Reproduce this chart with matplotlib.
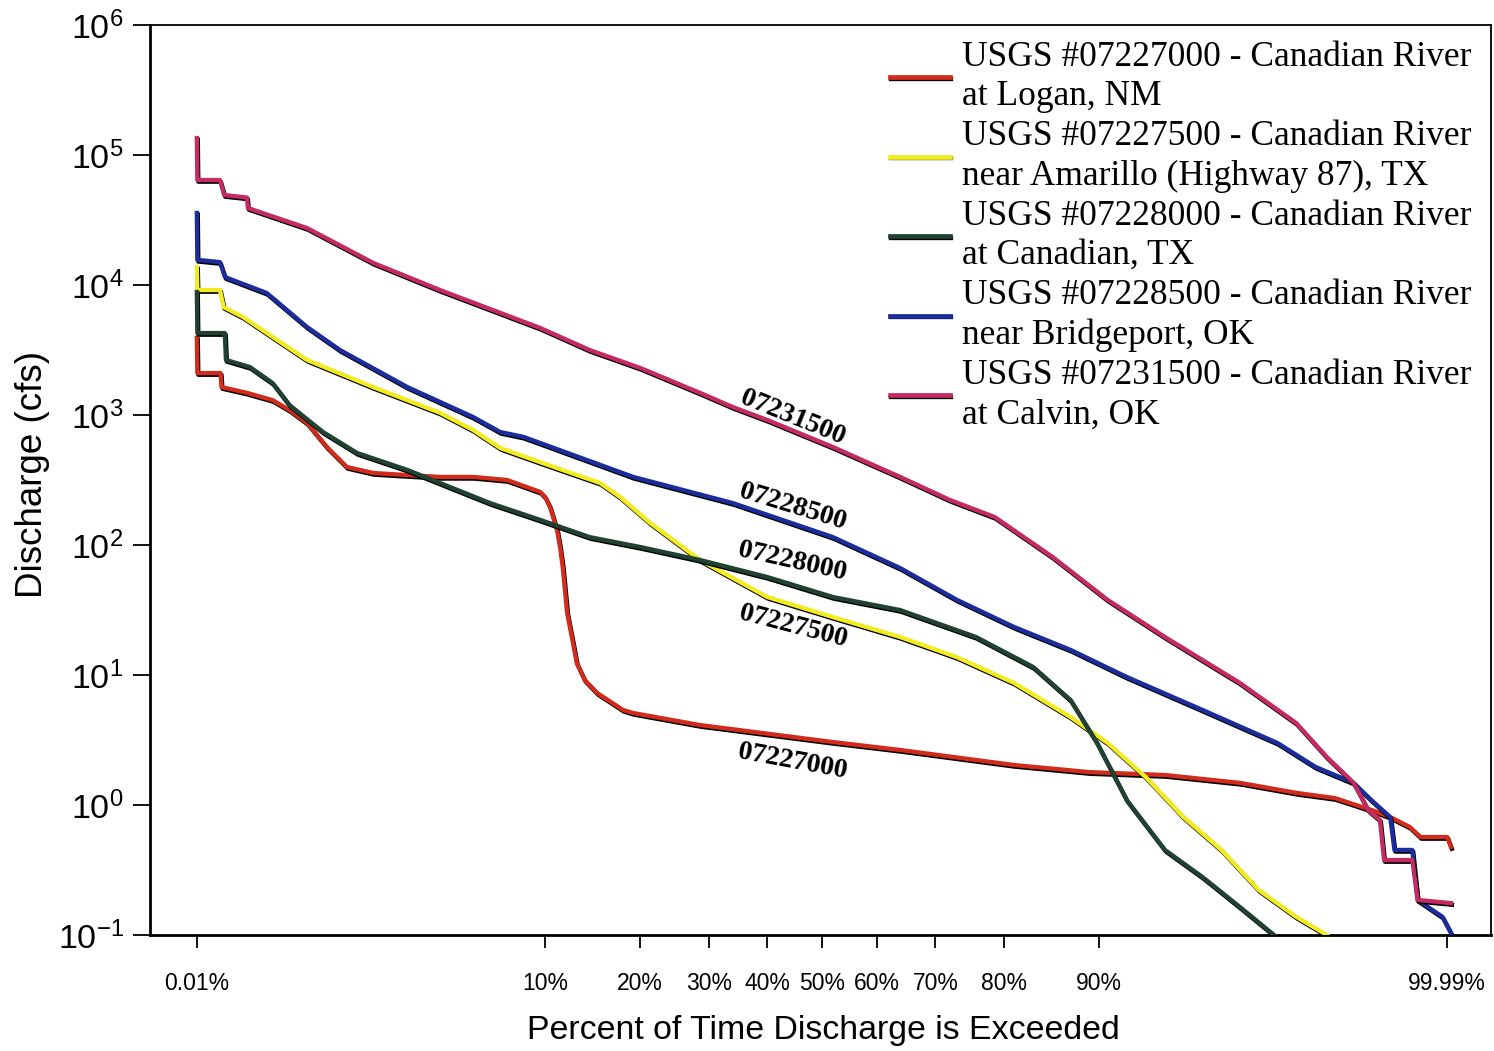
import math
import numpy as np
import matplotlib
matplotlib.use("Agg")
import matplotlib.pyplot as plt
import matplotlib.patheffects as pe
from matplotlib.font_manager import FontProperties

# ---------------- data: flow-duration curves (percent exceeded, discharge cfs) ----------------
pct_07227000 = [0.01, 0.0101, 0.0160, 0.0163, 0.027, 0.045, 0.063, 0.089, 0.132, 0.196, 0.33,
                0.65, 1.24, 2.39, 4.7, 9.06, 10.0, 10.4, 11.0, 11.26, 11.5, 11.9, 12.45, 12.8,
                13.6, 14.9, 17.85, 19.1, 28.6, 52, 64.1, 81.3, 89.2, 97.3, 99.39, 99.80,
                99.907, 99.955, 99.969, 99.979, 99.983, 99.99, 99.9907]
q_07227000 = [3910, 2100, 2100, 1640, 1480, 1300, 1090, 868, 567, 398, 358,
              345, 334, 334, 316, 256, 234, 196, 130, 96.5, 67.7, 30, 17.6, 12.4,
              9.15, 7.27, 5.38, 5.10, 4.12, 3.05, 2.65, 2.03, 1.79, 1.70, 1.48, 1.24,
              1.13, 0.915, 0.808, 0.677, 0.567, 0.567, 0.475]

pct_07227500 = [0.01, 0.0101, 0.0158, 0.0170, 0.025, 0.045, 0.089, 0.33, 1.24, 2.39, 4.1,
                10, 15.2, 17.5, 21.3, 28.6, 40, 52, 64.1, 73.4, 81.3, 87.5, 91.6, 96.05,
                98.13, 99.12, 99.58, 99.80, 99.891]
q_07227500 = [13700, 9150, 9150, 6770, 5670, 3980, 2650, 1640, 1040, 767, 557,
              420, 300, 234, 148, 76.7, 39.8, 27.9, 19.6, 13.7, 8.68, 4.75, 3.0, 1.64,
              0.808, 0.451, 0.222, 0.138, 0.1]

pct_07228000 = [0.01, 0.0101, 0.0174, 0.0178, 0.0286, 0.045, 0.063, 0.122, 0.24, 0.65, 1.24,
                3.36, 9.06, 14.1, 20, 28.6, 40, 52, 64.1, 76.2, 83.6, 87.5, 89.85, 94.25,
                97.3, 98.72, 99.39, 99.69]
q_07228000 = [8830, 4270, 4270, 2650, 2340, 1760, 1190, 740, 510, 378, 300,
              210, 156, 115, 96.5, 76.7, 56.7, 39.8, 31.6, 19.6, 11.5, 6.42, 3.0, 1.09,
              0.451, 0.279, 0.164, 0.1]

pct_07228500 = [0.01, 0.0101, 0.0158, 0.0175, 0.040, 0.089, 0.171, 0.65, 2.39, 4.1, 6.45,
                10, 19.1, 34, 52, 64.1, 73.4, 81.3, 87.5, 94.25, 98.72, 99.71, 99.864,
                99.936, 99.955, 99.969, 99.9715, 99.980, 99.982, 99.989, 99.9907]
q_07228500 = [35800, 15600, 15000, 11500, 8680, 4750, 3160, 1640, 966, 740, 680,
              590, 334, 210, 115, 66.5, 37.8, 23.4, 15.6, 9.65, 5.38, 3.0, 1.96,
              1.48, 1.09, 0.808, 0.451, 0.451, 0.186, 0.138, 0.104]

pct_07231500 = [0.01, 0.0101, 0.0158, 0.0172, 0.027, 0.0275, 0.089, 0.33, 1.24, 9.06, 14.1,
                20, 28.6, 34, 40, 52, 64.1, 72.3, 78.8, 85.7, 91.6, 97.3, 99.39, 99.80,
                99.891, 99.936, 99.952, 99.962, 99.965, 99.980, 99.982, 99.9907]
q_07231500 = [135000, 64200, 64200, 49200, 47100, 39100, 27400, 14800, 9150, 4670, 3160,
              2300, 1480, 1150, 915, 567, 334, 222, 164, 80.9, 37.8, 19.6, 8.68, 4.27,
              2.34, 1.48, 0.915, 0.767, 0.377, 0.377, 0.186, 0.176]

stations = ["07227000", "07227500", "07228000", "07228500", "07231500"]
legend_labels = [
    "USGS #07227000 - Canadian River\nat Logan, NM",
    "USGS #07227500 - Canadian River\nnear Amarillo (Highway 87), TX",
    "USGS #07228000 - Canadian River\nat Canadian, TX",
    "USGS #07228500 - Canadian River\nnear Bridgeport, OK",
    "USGS #07231500 - Canadian River\nat Calvin, OK",
]
colors = ["#d12b1c", "#f3ec22", "#1f4232", "#1b2c9c", "#c42b62"]

# curve tags: (percent, discharge, rotation)
tag_pct = [44.6, 44.6, 44.6, 44.6, 44.6]
tag_q = [2.14, 23.4, 74, 196, 948]
tag_rot = [-10.5, -14.5, -12.5, -17, -22]

x_ticks = [0.01, 10, 20, 30, 40, 50, 60, 70, 80, 90, 99.99]
x_ticklabels = ["0.01%", "10%", "20%", "30%", "40%", "50%", "60%", "70%", "80%", "90%", "99.99%"]
y_ticks = [1e-1, 1e0, 1e1, 1e2, 1e3, 1e4, 1e5, 1e6]

# ---------------- probability-style x scale ----------------
Z10 = 1.2815516
K_TAIL = 0.5375  # z-units per decade in the tails


def _ppf_central(q):
    a = [-3.969683028665376e+01, 2.209460984245205e+02, -2.759285104469687e+02,
         1.383577518672690e+02, -3.066479806614716e+01, 2.506628277459239e+00]
    b = [-5.447609879822406e+01, 1.615858368580409e+02, -1.556989798598866e+02,
         6.680131188771972e+01, -1.328068155288572e+01]
    q = q - 0.5
    r = q * q
    num = (((((a[0] * r + a[1]) * r + a[2]) * r + a[3]) * r + a[4]) * r + a[5]) * q
    den = (((((b[0] * r + b[1]) * r + b[2]) * r + b[3]) * r + b[4]) * r + 1)
    return num / den


_erf = np.vectorize(math.erf)


def fwd(p):
    p = np.asarray(p, dtype=float)
    with np.errstate(all="ignore"):
        lp = np.log10(np.clip(p, 1e-12, None))
        lc = np.log10(np.clip(100.0 - p, 1e-12, None))
        mid = _ppf_central(np.clip(p / 100.0, 0.1, 0.9))
        left = -Z10 - K_TAIL * (1.0 - lp)
        right = Z10 + K_TAIL * (1.0 - lc)
    return np.where(p < 10, left, np.where(p > 90, right, mid))


def inv(z):
    z = np.asarray(z, dtype=float)
    with np.errstate(all="ignore"):
        mid = 50.0 * (1.0 + _erf(np.clip(z, -8, 8) / math.sqrt(2.0)))
        left = 10.0 ** np.clip(1.0 - (-Z10 - z) / K_TAIL, -30, 3)
        right = 100.0 - 10.0 ** np.clip(1.0 - (z - Z10) / K_TAIL, -30, 3)
    return np.where(z < -Z10, left, np.where(z > Z10, right, mid))


# ---------------- figure ----------------
plt.rcParams["mathtext.fontset"] = "custom"
plt.rcParams["mathtext.rm"] = "Liberation Sans"
plt.rcParams["font.family"] = ["Liberation Sans", "DejaVu Sans"]

W, H = 1494, 1051
fig = plt.figure(figsize=(W / 100, H / 100), dpi=100)
ax = fig.add_axes([150 / W, 1 - 935 / H, 1341 / W, 910 / H])

ax.set_xscale("function", functions=(fwd, inv))
ax.set_yscale("log")

series = [(pct_07227000, q_07227000), (pct_07227500, q_07227500), (pct_07228000, q_07228000),
          (pct_07228500, q_07228500), (pct_07231500, q_07231500)]

LW = 3.1
shadow = [pe.Stroke(offset=(0.7, -1.2), linewidth=LW, foreground="black"), pe.Normal()]
handles = []
for (px, qy), col, lab in zip(series, colors, legend_labels):
    ln, = ax.plot(px, qy, color=col, lw=LW, solid_joinstyle="round", label=lab,
                  path_effects=shadow, zorder=3)
    handles.append(ln)

ax.set_xlim(0.00395, 99.9958)
ax.set_ylim(0.1, 1e6)

ax.set_xticks(x_ticks)
ax.set_xticklabels(x_ticklabels)
ax.xaxis.set_minor_locator(matplotlib.ticker.NullLocator())
ax.set_yticks(y_ticks)
ax.set_yticklabels([r"$\mathregular{10^{%d}}$" % int(round(math.log10(v))) for v in y_ticks])
ax.yaxis.set_minor_locator(matplotlib.ticker.NullLocator())

ax.tick_params(axis="x", direction="out", length=9.5, width=1.3, pad=17, labelsize=16.5)
ax.tick_params(axis="y", direction="out", length=12, width=1.3, pad=7, labelsize=24.5)

for side in ["left", "bottom"]:
    ax.spines[side].set_linewidth(2.0)
for side in ["top", "right"]:
    ax.spines[side].set_linewidth(1.3)

ax.set_xlabel("Percent of Time Discharge is Exceeded", fontsize=24.4)
ax.set_ylabel("Discharge (cfs)", fontsize=26.5)
ax.xaxis.label.set_va("center")
ax.yaxis.label.set_va("center")
ax.xaxis.set_label_coords((823 - 150) / 1341, (935 - 1031) / 910)
ax.yaxis.set_label_coords((33 - 150) / 1341, (935 - 475) / 910)

# station tags along the curves
tag_font = FontProperties(family=["Liberation Serif", "DejaVu Serif"], weight="bold", size=20)
for name, tp, tq, rot in zip(stations, tag_pct, tag_q, tag_rot):
    ax.text(tp, tq, name, fontproperties=tag_font, rotation=rot, rotation_mode="anchor",
            ha="center", va="center", zorder=4)

leg = ax.legend(handles=handles, loc="upper left",
                bbox_to_anchor=((890 - 150) / 1341, (935 - 41) / 910),
                frameon=False, prop=FontProperties(family=["Liberation Serif", "DejaVu Serif"], size=25.5),
                handlelength=1.7, handletextpad=0.33, labelspacing=0.2,
                borderaxespad=0, borderpad=0)
for t in leg.get_texts():
    t.set_linespacing(1.25)
for h in leg.legend_handles:
    h.set_linewidth(3.4)
    h.set_path_effects(shadow)

fig.savefig("out.png", dpi=100)
